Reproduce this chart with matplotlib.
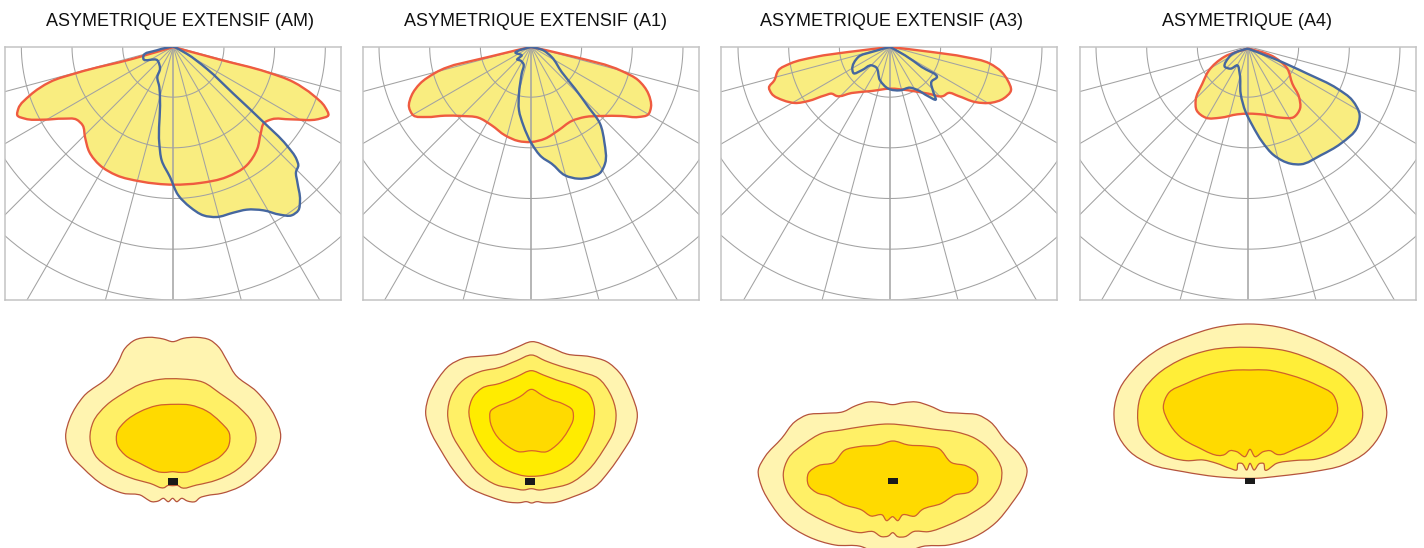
import numpy as np
import matplotlib
matplotlib.use("Agg")
import matplotlib.pyplot as plt
from matplotlib.path import Path
from matplotlib.patches import PathPatch, Rectangle

plt.rcParams["font.family"] = ["Liberation Sans", "DejaVu Sans"]

W, H = 1424, 548
SCALE = 3  # outlines are read in units of 1/3 pixel

titles = ["ASYMETRIQUE EXTENSIF (AM)", "ASYMETRIQUE EXTENSIF (A1)",
          "ASYMETRIQUE EXTENSIF (A3)", "ASYMETRIQUE (A4)"]
title_centers = [180, 536, 891, 1247]

ring_step = 152
ring_count = 6
ray_angles = [-75, -60, -45, -30, -15, 0, 15, 30, 45, 60, 75]

# photometric curves, x/y in each panel's own crop units
am_red = [(520,140),(400,175),(230,218),(150,245),(90,285),(55,325),(52,345),(75,355),(130,358),(190,355),(230,358),(248,375),(255,410),(268,455),(300,495),(350,525),(420,543),(520,553),(600,548),(680,530),(740,495),(772,445),(782,400),(792,368),(815,357),(870,357),(960,355),(985,345),(975,320),(940,285),(880,245),(800,215),(660,178),(520,140)]
am_blue = [(520,138),(560,160),(620,205),(700,280),(790,365),(860,435),(890,478),(895,495),(888,515),(892,545),(900,600),(895,630),(875,645),(840,643),(790,630),(740,628),(700,637),(650,650),(610,645),(570,620),(535,585),(510,530),(485,480),(478,430),(480,300),(478,260),(472,230),(480,205),(472,180),(430,175),(430,168),(470,150),(520,138)]
a1_red = [(528,140),(400,170),(240,218),(195,250),(170,285),(162,320),(175,345),(215,350),(270,346),(320,347),(370,352),(410,375),(450,405),(490,422),(528,425),(570,415),(610,390),(650,362),(690,350),(740,347),(800,347),(850,350),(880,342),(888,320),(880,280),(850,240),(800,212),(660,170),(528,140)]
a1_blue = [(528,140),(565,150),(590,170),(620,215),(660,265),(700,320),(735,370),(748,425),(750,490),(735,518),(710,530),(670,535),(630,525),(590,490),(560,470),(530,430),(505,375),(492,330),(492,280),(500,220),(505,190),(495,180),(487,178),(500,165),(482,158),(528,140)]
a3_red = [(525,140),(400,155),(300,170),(225,190),(190,210),(178,240),(162,262),(170,280),(205,300),(240,308),(280,302),(330,285),(350,280),(365,287),(410,278),(470,272),(525,265),(580,270),(640,280),(685,287),(700,278),(730,287),(780,305),(830,307),(865,295),(888,270),(878,240),(860,215),(825,190),(750,170),(650,155),(525,140)]
a3_blue = [(525,140),(570,165),(620,200),(665,232),(650,243),(655,275),(662,298),(640,288),(605,268),(585,262),(555,270),(520,265),(495,240),(482,200),(470,195),(440,210),(415,218),(412,208),(430,170),(470,155),(525,140)]
a4_red = [(522,145),(450,170),(405,210),(385,250),(365,300),(368,330),(395,352),(440,352),(490,342),(525,340),(570,343),(620,352),(660,350),(678,325),(675,290),(655,250),(640,205),(600,170),(522,145)]
a4_blue = [(522,145),(600,175),(700,220),(790,265),(835,300),(857,345),(850,380),(800,430),(740,465),(680,492),(650,490),(600,465),(565,425),(535,375),(515,335),(500,280),(497,220),(490,195),(470,205),(453,200),(470,165),(522,145)]

# isolux contours, outermost first
am_iso = [
    [(368,50),(340,42),(295,37),(255,45),(225,70),(205,110),(180,150),(100,215),(60,280),(47,335),(60,385),(100,430),(160,480),(220,505),(275,512),(290,522),(305,530),(325,528),(340,520),(355,530),(368,520),(380,530),(395,520),(412,528),(435,530),(450,518),(470,512),(515,505),(570,485),(640,430),(680,380),(692,335),(675,275),(620,200),(555,148),(530,105),(505,65),(480,45),(440,37),(400,40),(368,50)],
    [(395,162),(330,163),(270,178),(220,205),(170,240),(130,290),(120,340),(135,390),(180,430),(240,458),(300,475),(345,487),(352,482),(368,482),(385,482),(392,487),(440,480),(500,465),(560,435),(600,395),(618,345),(605,290),(570,250),(510,205),(460,172),(395,162)],
    [(375,238),(320,242),(270,260),(225,290),(202,320),(202,360),(225,390),(270,415),(335,442),(350,442),(368,440),(385,442),(405,442),(460,420),(510,395),(535,365),(538,325),(510,290),(470,258),(420,240),(375,238)],
]
a1_iso = [
    [(365,35),(320,52),(270,72),(220,78),(160,85),(120,105),(85,145),(58,195),(47,250),(60,300),(95,365),(130,420),(175,470),(240,500),(300,517),(330,518),(350,515),(365,519),(380,515),(400,518),(430,518),(490,500),(555,470),(600,420),(635,370),(670,310),(682,255),(665,195),(630,130),(590,95),(540,80),(470,72),(420,52),(365,35)],
    [(365,75),(320,92),(270,112),(210,125),(160,150),(125,195),(113,250),(125,310),(160,370),(205,430),(260,465),(310,475),(340,480),(365,476),(385,480),(420,475),(480,460),(535,420),(580,360),(612,300),(618,250),(600,190),(565,145),(510,125),(450,108),(405,92),(365,75)],
    [(365,122),(320,140),(270,160),(215,175),(190,200),(177,240),(185,290),(210,345),(250,395),(300,425),(345,438),(385,438),(440,425),(490,395),(525,345),(550,280),(553,235),(535,190),(500,170),(440,150),(400,135),(365,122)],
    [(365,178),(330,200),(295,217),(260,230),(242,243),(240,270),(255,310),(295,350),(325,365),(365,362),(410,365),(440,345),(475,300),(490,265),(487,240),(460,222),(420,208),(395,195),(365,178)],
]
a3_iso = [
    [(443,44),(410,38),(370,36),(330,48),(295,65),(240,70),(185,75),(150,95),(110,145),(60,200),(40,240),(50,290),(80,345),(120,395),(190,440),(270,465),(350,470),(375,480),(430,485),(500,480),(530,470),(610,465),(690,440),(750,400),(800,340),(835,285),(846,240),(825,195),(780,150),(735,95),(700,75),(650,70),(595,65),(555,48),(515,36),(475,38),(443,44)],
    [(430,102),(350,110),(290,120),(230,130),(180,160),(130,205),(115,250),(125,300),(165,350),(230,390),(290,415),(345,428),(385,425),(410,440),(430,438),(443,428),(458,440),(480,440),(505,425),(550,425),(610,405),(680,370),(740,325),(768,275),(770,240),(740,185),(690,145),(630,125),(570,118),(500,108),(430,102)],
    [(443,153),(400,165),(340,170),(300,180),(265,218),(220,227),(190,250),(190,285),(215,308),(250,318),(300,345),(350,360),(378,378),(412,375),(425,392),(443,380),(458,392),(472,375),(510,378),(530,360),(590,340),(630,315),(675,305),(697,280),(695,250),(665,228),(620,218),(580,175),(540,168),(490,165),(443,153)],
]
a4_iso = [
    [(450,27),(350,37),(260,65),(180,100),(100,165),(60,220),(42,290),(50,350),(90,410),(150,447),(250,470),(350,485),(435,490),(465,490),(540,483),(640,470),(730,450),(800,410),(845,350),(860,300),(845,230),(800,165),(720,110),(640,70),(540,37),(450,27)],
    [(450,97),(330,105),(240,135),(170,180),(125,235),(113,295),(120,350),(160,400),(220,430),(260,437),(310,435),(350,445),(390,460),(410,465),(415,445),(425,445),(440,465),(450,445),(462,465),(480,445),(490,445),(495,465),(530,445),(580,437),(650,432),(720,405),(770,360),(788,300),(775,240),(730,185),(650,140),(560,108),(450,97)],
    [(450,165),(410,165),(340,175),(260,205),(205,235),(190,275),(205,320),(240,365),(290,395),(375,418),(390,407),(410,410),(435,425),(450,403),(465,425),(490,410),(510,407),(530,418),(590,400),(650,370),(695,330),(713,285),(700,240),(650,210),(570,180),(500,165),(450,165)],
]

# frame boxes in px: left, right, crop left, apex x in crop units
frames = [(5, 341, 0, 520), (362.5, 699, 355, 528), (720.5, 1057, 715, 525), (1079.5, 1416, 1074, 522)]
frame_top, frame_bottom = 46.5, 299.5
polar_curves = [(am_red, am_blue), (a1_red, a1_blue), (a3_red, a3_blue), (a4_red, a4_blue)]

# crop window of each isolux diagram: x, y, w, h in px
iso_windows = [(50, 325, 250, 200), (410, 330, 240, 190), (745, 390, 295, 158), (1100, 315, 300, 180)]
iso_sets = [am_iso, a1_iso, a3_iso, a4_iso]
iso_lamps = [(355, 460, 30, 20), (346, 445, 30, 20), (428, 264, 30, 18), (436, 488, 30, 19)]
iso_colors = [["#fff4b0", "#fff066", "#ffda00"],
              ["#fff4b0", "#fff066", "#ffec00", "#ffda00"],
              ["#fff4b0", "#fff066", "#ffda00"],
              ["#fff4b0", "#ffee38", "#ffda00"]]
iso_edges = ["#b5533c", "#bf5a36", "#d0602c", "#d9642a"]

GRID = "#a2a2a2"
FRAME = "#c4c4c4"
FILL = "#f9ed80"
RED = "#ef5b40"
BLUE = "#46679f"


def smooth_path(points, closed):
    # spline through the read points, tangents weighted by chord length
    p = np.array(points, dtype=float)[:-1]
    n = len(p)
    tangents = np.zeros_like(p)
    for i in range(n):
        if not closed and i == 0:
            continue
        a, b, c = p[i - 1], p[i], p[(i + 1) % n]
        d0 = np.hypot(*(b - a))
        d1 = np.hypot(*(c - b))
        tangents[i] = (d1 * (b - a) / d0 + d0 * (c - b) / d1) / (d0 + d1)
    verts = [p[0]]
    codes = [Path.MOVETO]
    for i in range(n):
        j = (i + 1) % n
        d = np.hypot(*(p[j] - p[i]))
        verts += [p[i] + tangents[i] * d / 3, p[j] - tangents[j] * d / 3, p[j]]
        codes += [Path.CURVE4] * 3
    return Path(verts, codes)


def px_axes(fig, left, top, right, bottom):
    return fig.add_axes([left / W, 1 - bottom / H, (right - left) / W, (bottom - top) / H])


fig = plt.figure(figsize=(W / 100, H / 100), dpi=100, facecolor="white")

for (left, right, crop_x, apex), curves in zip(frames, polar_curves):
    ax = px_axes(fig, left, frame_top, right, frame_bottom)
    x0 = (left - crop_x) * SCALE
    x1 = (right - crop_x) * SCALE
    y0 = frame_top * SCALE - 1
    y1 = frame_bottom * SCALE - 1
    ax.set_xlim(x0, x1)
    ax.set_ylim(y1, y0)
    ax.set_xticks([])
    ax.set_yticks([])
    for s in ax.spines.values():
        s.set_color(FRAME)
        s.set_linewidth(1.1)

    for pts in curves:
        ax.add_patch(PathPatch(smooth_path(pts, False), facecolor=FILL, edgecolor="none", zorder=1))

    theta = np.linspace(0, np.pi, 181)
    for k in range(1, ring_count + 1):
        r = ring_step * k
        ax.plot(apex + r * np.cos(theta), y0 + r * np.sin(theta), color=GRID, lw=0.75, zorder=2)
    for a in ray_angles:
        t = np.radians(a)
        ax.plot([apex, apex + 2000 * np.sin(t)], [y0, y0 + 2000 * np.cos(t)], color=GRID,
                lw=1.1 if a == 0 else 0.75, zorder=2)

    ax.add_patch(PathPatch(smooth_path(curves[0], False), facecolor="none", edgecolor=RED, lw=1.7, zorder=3))
    ax.add_patch(PathPatch(smooth_path(curves[1], False), facecolor="none", edgecolor=BLUE, lw=1.7, zorder=4))

for (x, y, w, h), contours, colors, lamp in zip(iso_windows, iso_sets, iso_colors, iso_lamps):
    ax = px_axes(fig, x, y, x + w, y + h)
    ax.set_xlim(0, w * SCALE)
    ax.set_ylim(h * SCALE, 0)
    ax.axis("off")
    for pts, c, e in zip(contours, colors, iso_edges):
        ax.add_patch(PathPatch(smooth_path(pts, True), facecolor=c, edgecolor=e, lw=0.9))
    ax.add_patch(Rectangle(lamp[:2], lamp[2], lamp[3], facecolor="#1a1a1a", edgecolor="none", zorder=5))

for label, cx in zip(titles, title_centers):
    fig.text(cx / W, 1 - 21 / H, label, ha="center", va="center", fontsize=13, color="#111111")

fig.savefig("out.png", dpi=100)
